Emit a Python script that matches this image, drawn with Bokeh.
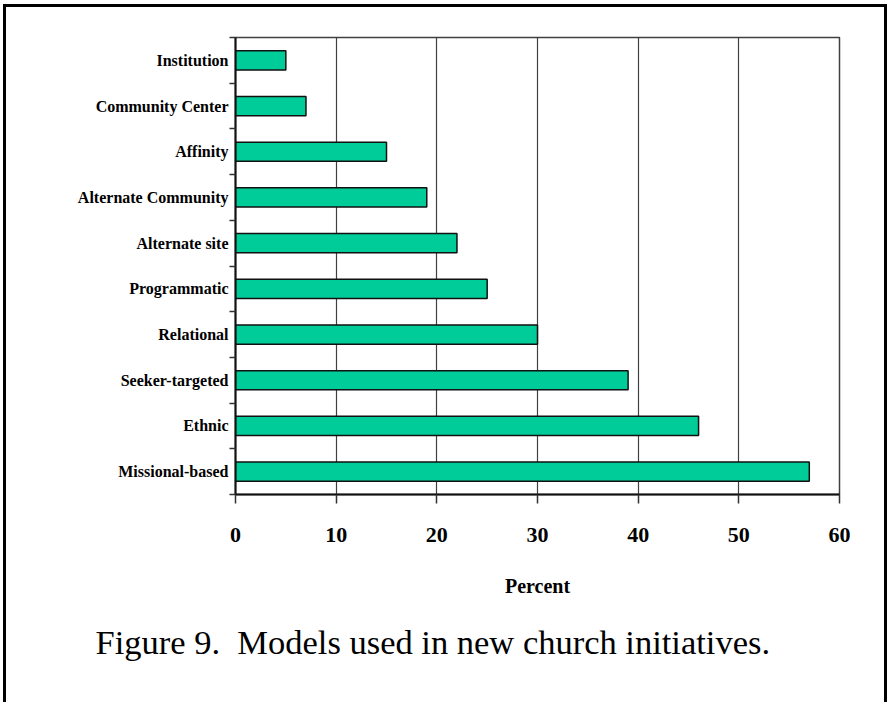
from bokeh.plotting import figure
from bokeh.models import FixedTicker, Title, Range1d, InlineStyleSheet
from bokeh.embed import file_html
from bokeh.resources import INLINE

categories = ["Missional-based", "Ethnic", "Seeker-targeted", "Relational", "Programmatic",
              "Alternate site", "Alternate Community", "Affinity", "Community Center", "Institution"]
percent = [57, 46, 39, 30, 25, 22, 19, 15, 7, 5]
x_ticks = [0, 10, 20, 30, 40, 50, 60]
caption = "Figure 9.\u00a0 Models used in new church initiatives."
x_title = "Percent"

n = len(categories)
pos = list(range(n))

frame_css = InlineStyleSheet(css="""
:host { position: relative; }
:host::after {
  content: "";
  position: absolute;
  left: 3px; top: 4px; width: 884px; height: 698px;
  border-top: 3px solid black; border-left: 3px solid black; border-right: 3px solid black;
  box-sizing: border-box; pointer-events: none;
}
""")

p = figure(width=889, height=702, output_backend="svg", toolbar_location=None,
           x_range=Range1d(0, 60), y_range=Range1d(-0.5, n - 0.5),
           min_border_left=235, min_border_right=50, min_border_top=37, min_border_bottom=208,
           stylesheets=[frame_css])
p.background_fill_color = "white"
p.border_fill_color = "white"
p.outline_line_color = "#404040"
p.outline_line_width = 1.5

p.hbar(y=pos, right=percent, left=0, height=0.42, fill_color="#00CC99",
       line_color="#111111", line_width=1.5)

SERIF = "Liberation Serif"

# x axis
xa = p.xaxis[0]
xa.ticker = FixedTicker(ticks=x_ticks, minor_ticks=[])
xa.axis_line_color = "#111111"
xa.axis_line_width = 2
xa.major_tick_out = 9
xa.major_tick_in = 0
xa.major_tick_line_color = "#333333"
xa.major_tick_line_width = 1.5
xa.major_label_text_font = SERIF
xa.major_label_text_font_style = "bold"
xa.major_label_text_font_size = "22px"
xa.major_label_text_color = "black"
xa.major_label_standoff = 24
xa.axis_label = x_title
xa.axis_label_text_font = SERIF
xa.axis_label_text_font_style = "bold"
xa.axis_label_text_font_size = "20px"
xa.axis_label_text_color = "black"
xa.axis_label_standoff = 30

# y axis
ya = p.yaxis[0]
ya.ticker = FixedTicker(ticks=pos, minor_ticks=[i - 0.5 for i in range(n + 1)])
ya.major_label_overrides = {i: c for i, c in zip(pos, categories)}
ya.axis_line_color = "#111111"
ya.axis_line_width = 2
ya.major_tick_out = 0
ya.major_tick_in = 0
ya.minor_tick_out = 6
ya.minor_tick_in = 0
ya.minor_tick_line_color = "#333333"
ya.minor_tick_line_width = 1.5
ya.major_label_text_font = SERIF
ya.major_label_text_font_style = "bold"
ya.major_label_text_font_size = "16px"
ya.major_label_text_color = "black"
ya.major_label_standoff = 1

p.ygrid.visible = False
p.xgrid.ticker = FixedTicker(ticks=x_ticks)
p.xgrid.grid_line_color = "#404040"
p.xgrid.grid_line_width = 1.2

cap = Title(text=caption, text_font=SERIF, text_font_size="34.5px", text_font_style="normal",
            text_color="black", align="left", offset=-140, standoff=42)
p.add_layout(cap, "below")

open("out.html", "w").write(file_html(p, INLINE))
